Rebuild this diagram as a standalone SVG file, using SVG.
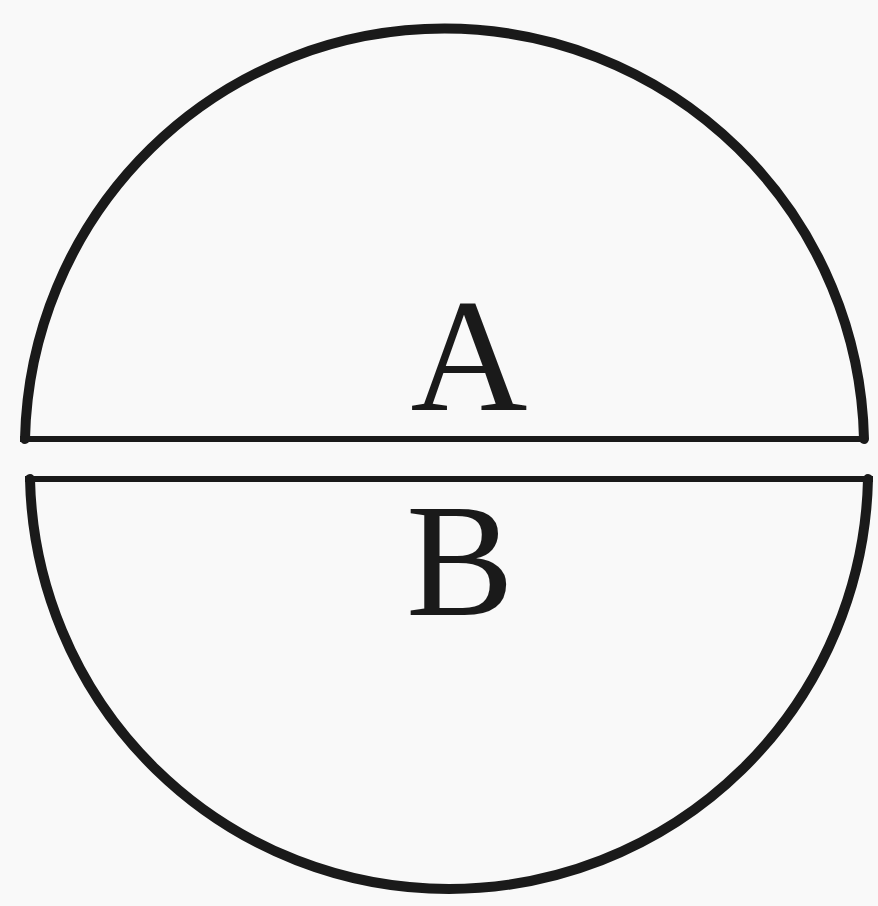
<svg xmlns="http://www.w3.org/2000/svg" width="878" height="906" viewBox="0 0 878 906">
<style>
.arc{fill:none;stroke:#1a1a1a;stroke-width:10;stroke-linecap:round}
.chord{fill:none;stroke:#1a1a1a;stroke-width:6}
.lbl{font-family:"Liberation Serif","Times New Roman",serif;font-size:162px;fill:#1a1a1a;text-anchor:middle}
</style>
<rect width="878" height="906" fill="#f9f9f9"/>
<g id="top-half">
<path class="arc" d="M 25 439 A 419.6 419.6 0 0 1 864 439"/>
<line class="chord" x1="20" y1="439" x2="868" y2="439"/>
<text class="lbl" x="469" y="410">A</text>
</g>
<g id="bottom-half">
<path class="arc" d="M 30 479 A 419.1 419.1 0 0 0 868 479"/>
<line class="chord" x1="25" y1="479" x2="873" y2="479"/>
<text class="lbl" x="460" y="615">B</text>
</g>
<g id="connectors"></g>
</svg>
